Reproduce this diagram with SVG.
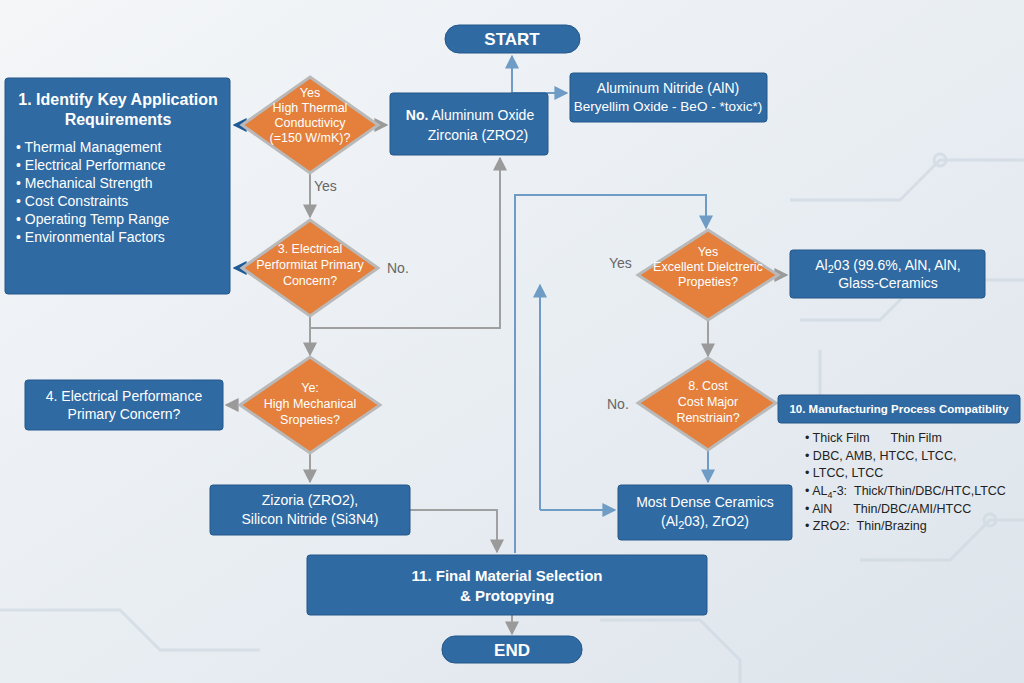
<svg xmlns="http://www.w3.org/2000/svg" width="1024" height="683" viewBox="0 0 1024 683">
<defs>
<linearGradient id="bg" x1="0" y1="0" x2="1" y2="1"><stop offset="0" stop-color="#f4f6f8"/><stop offset="0.5" stop-color="#e9eef3"/><stop offset="1" stop-color="#dde4eb"/></linearGradient>
<marker id="ag" viewBox="0 0 10 10" refX="9" refY="5" markerWidth="7" markerHeight="7" orient="auto"><path d="M0,0L10,5L0,10z" fill="#9a9a9a"/></marker>
<marker id="ab" viewBox="0 0 10 10" refX="9" refY="5" markerWidth="7" markerHeight="7" orient="auto"><path d="M0,0L10,5L0,10z" fill="#6f9cc4"/></marker>
<marker id="ad" viewBox="0 0 10 10" refX="9" refY="5" markerWidth="7" markerHeight="7" orient="auto"><path d="M0,0L10,5L0,10z" fill="#1f5a96"/></marker>
</defs>
<style>
.box{fill:#2f6aa3;stroke:#24578a;stroke-width:1}
.dia{fill:#e47f3c;stroke:#b9b9b9;stroke-width:3}
.w{fill:#fff;font-family:"Liberation Sans",Arial,sans-serif;font-size:14px;text-anchor:middle}
.wb{fill:#fff;font-family:"Liberation Sans",Arial,sans-serif;font-size:15px;font-weight:bold;text-anchor:middle}
.d{fill:#fff;font-family:"Liberation Sans",Arial,sans-serif;font-size:12.5px;text-anchor:middle}
.lab{fill:#666;font-family:"Liberation Sans",Arial,sans-serif;font-size:14px}
.li{fill:#222;font-family:"Liberation Sans",Arial,sans-serif;font-size:12.5px}
.g{fill:none;stroke:#a0a0a0;stroke-width:2}
.b{fill:none;stroke:#6f9cc4;stroke-width:2}
.c{fill:none;stroke:#cfd8e1;stroke-width:3}
</style>
<rect width="1024" height="683" fill="url(#bg)"/>
<g opacity="0.7">
<path class="c" d="M790 200H900L940 160H1024M800 320H880L920 280H1024M820 350V420M860 560H950L990 520H1024M600 620H700L740 660V683M0 610H120L160 650H260"/>
<circle cx="940" cy="160" r="6" class="c"/><circle cx="920" cy="280" r="6" class="c"/><circle cx="990" cy="520" r="6" class="c"/>
</g>
<g id="connectors">
<path class="b" d="M512 93V56" marker-end="url(#ab)"/>
<path class="b" d="M512 93H567" marker-end="url(#ab)"/>
<path class="g" d="M378 125H387" marker-end="url(#ag)"/>
<path d="M242 125H234" stroke="#1f5a96" stroke-width="2" marker-end="url(#ad)"/>
<path class="g" d="M310 173V217" marker-end="url(#ag)"/>
<path d="M242 268H234" stroke="#1f5a96" stroke-width="2" marker-end="url(#ad)"/>
<path class="g" d="M310 316V328H500V158" marker-end="url(#ag)"/>
<path class="g" d="M310 328V355" marker-end="url(#ag)"/>
<path class="g" d="M240 405H226" marker-end="url(#ag)"/>
<path class="g" d="M310 452V482" marker-end="url(#ag)"/>
<path class="g" d="M410 510H497V552" marker-end="url(#ag)"/>
<path class="b" d="M515 553V195H706V228" marker-end="url(#ab)"/>
<path class="g" d="M778 275H787" marker-end="url(#ag)"/>
<path class="g" d="M708 320V356" marker-end="url(#ag)"/>
<path class="b" d="M708 450V482" marker-end="url(#ab)"/>
<path class="b" d="M540 510V285" marker-end="url(#ab)"/>
<path class="b" d="M540 510H615" marker-end="url(#ab)"/>
<path class="g" d="M512 615V634" marker-end="url(#ag)"/>
</g>
<g id="start"><rect x="445" y="25" width="135" height="28" rx="14" class="box"/><text x="512" y="45" class="wb" style="font-size:17px">START</text></g>
<g id="end"><rect x="442" y="636" width="140" height="27" rx="13" class="box"/><text x="512" y="656" class="wb" style="font-size:17px">END</text></g>
<g id="req"><rect x="5" y="78" width="225" height="216" rx="3" class="box"/>
<text x="118" y="105" class="wb" style="font-size:16px">1. Identify Key Application</text>
<text x="118" y="125" class="wb" style="font-size:16px">Requirements</text>
<g class="w" style="text-anchor:start">
<text x="16" y="152">•  Thermal Management</text><text x="16" y="170">•  Electrical Performance</text><text x="16" y="188">•  Mechanical Strength</text><text x="16" y="206">•  Cost Constraints</text><text x="16" y="224">•  Operating Temp Range</text><text x="16" y="242">•  Environmental Factors</text></g></g>
<g id="d1"><path d="M310 77L378 125L310 173L242 125z" class="dia"/><text x="310" y="97" class="d">Yes</text><text x="310" y="112" class="d">High Thermal</text><text x="310" y="127" class="d">Conductivicy</text><text x="310" y="142" class="d">(=150 W/mK)?</text></g>
<g id="no1"><rect x="390" y="93" width="158" height="62" rx="3" class="box"/><text x="470" y="120" class="w"><tspan font-weight="bold">No.</tspan>  Aluminum Oxide</text><text x="478" y="140" class="w">Zirconia (ZRO2)</text></g>
<g id="aln"><rect x="570" y="73" width="197" height="49" rx="3" class="box"/><text x="668" y="93" class="w">Aluminum Nitride (AlN)</text><text x="668" y="111" class="w" style="font-size:13.5px">Beryellim Oxide - BeO - *toxic*)</text></g>
<text x="314" y="191" class="lab">Yes</text>
<g id="d2"><path d="M310 220L378 268L310 316L242 268z" class="dia"/><text x="310" y="253" class="d">3. Electrical</text><text x="310" y="269" class="d">Performitat Primary</text><text x="310" y="285" class="d">Concern?</text></g>
<text x="387" y="273" class="lab">No.</text>
<g id="d3"><path d="M310 357L380 405L310 453L240 405z" class="dia"/><text x="310" y="392" class="d">Ye:</text><text x="310" y="408" class="d">High Mechanical</text><text x="310" y="424" class="d">Sropeties?</text></g>
<g id="ep"><rect x="25" y="380" width="198" height="50" rx="3" class="box"/><text x="124" y="401" class="w">4. Electrical Performance</text><text x="124" y="419" class="w">Primary Concern?</text></g>
<g id="ziz"><rect x="210" y="485" width="200" height="50" rx="3" class="box"/><text x="310" y="505" class="w">Zizoria (ZRO2),</text><text x="310" y="524" class="w">Silicon Nitride (Si3N4)</text></g>
<g id="final"><rect x="307" y="555" width="400" height="60" rx="3" class="box"/><text x="507" y="581" class="wb">11. Final Material Selection</text><text x="507" y="601" class="wb">&amp; Protopying</text></g>
<text x="609" y="268" class="lab">Yes</text>
<g id="d4"><path d="M708 230L778 275L708 320L638 275z" class="dia"/><text x="708" y="256" class="d">Yes</text><text x="708" y="271" class="d">Excellent Dielctreric</text><text x="708" y="286" class="d">Propeties?</text></g>
<g id="al"><rect x="790" y="250" width="195" height="48" rx="3" class="box"/><text x="888" y="270" class="w">Al<tspan font-size="11" dy="3">2</tspan><tspan dy="-3">03 (99.6%, AlN, AlN,</tspan></text><text x="888" y="288" class="w">Glass-Ceramics</text></g>
<text x="607" y="409" class="lab">No.</text>
<g id="d5"><path d="M708 358L776 403L708 450L638 403z" class="dia"/><text x="708" y="390" class="d">8. Cost</text><text x="708" y="406" class="d">Cost Major</text><text x="708" y="422" class="d">Renstriain?</text></g>
<g id="mfg"><rect x="778" y="395" width="242" height="28" rx="3" class="box"/><text x="899" y="413" class="wb" style="font-size:11.5px">10. Manufacturing Process Compatiblity</text>
<g class="li"><text x="805" y="442">•  Thick Film&#160;&#160;&#160;&#160;&#160;&#160;Thin Film</text><text x="805" y="460">•  DBC, AMB, HTCC, LTCC,</text><text x="805" y="477">•  LTCC, LTCC</text><text x="805" y="495">•  AL<tspan font-size="9" dy="3">4</tspan><tspan dy="-3">-3:&#160;&#160;Thick/Thin/DBC/HTC,LTCC</tspan></text><text x="805" y="513">•  AlN&#160;&#160;&#160;&#160;&#160;&#160;Thin/DBC/AMI/HTCC</text><text x="805" y="530">•  ZRO2:&#160;&#160;Thin/Brazing</text></g></g>
<g id="dense"><rect x="618" y="485" width="174" height="55" rx="3" class="box"/><text x="705" y="507" class="w">Most Dense Ceramics</text><text x="705" y="526" class="w">(Al<tspan font-size="11" dy="3">2</tspan><tspan dy="-3">03), ZrO2)</tspan></text></g>
</svg>
